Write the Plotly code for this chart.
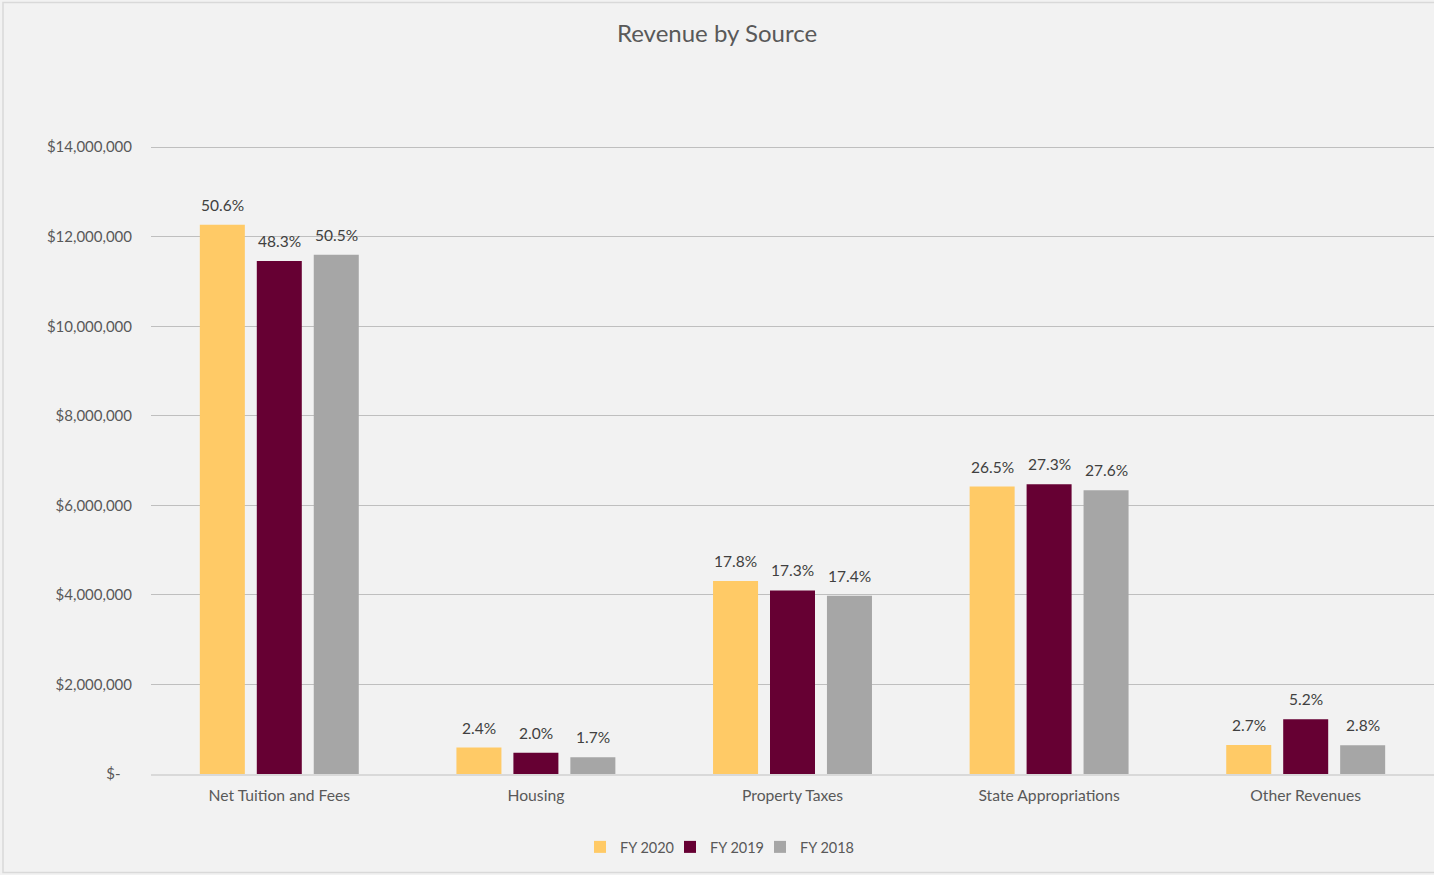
import plotly.graph_objects as go

categories = ["Net Tuition and Fees", "Housing", "Property Taxes", "State Appropriations", "Other Revenues"]
series_names = ["FY 2020", "FY 2019", "FY 2018"]
fy2020 = [12270000, 590000, 4310000, 6420000, 650000]
fy2019 = [11460000, 476000, 4100000, 6470000, 1225000]
fy2018 = [11600000, 375000, 3980000, 6340000, 640000]
pct2020 = ["50.6%", "2.4%", "17.8%", "26.5%", "2.7%"]
pct2019 = ["48.3%", "2.0%", "17.3%", "27.3%", "5.2%"]
pct2018 = ["50.5%", "1.7%", "17.4%", "27.6%", "2.8%"]
colors = ["#FFCA66", "#660033", "#A6A6A6"]
tick_vals = [0, 2000000, 4000000, 6000000, 8000000, 10000000, 12000000, 14000000]
tick_text = ["$-\u00a0\u00a0\u00a0", "$2,000,000", "$4,000,000", "$6,000,000", "$8,000,000",
             "$10,000,000", "$12,000,000", "$14,000,000"]

FONT = "Lato, 'Open Sans', sans-serif"
BARGAP = 0.334
GROUPGAP = 0.21
PLOT_L, PLOT_W = 151, 1283

all_vals = [fy2020, fy2019, fy2018]
all_pct = [pct2020, pct2019, pct2018]
legend_ids = ["legend", "legend2", "legend3"]
legend_text_px = [620, 710, 800]  # where each legend label starts

fig = go.Figure()
for name, vals, col, lid in zip(series_names, all_vals, colors, legend_ids):
    fig.add_trace(go.Bar(
        x=categories, y=vals, name=name, marker_color=col,
        marker_line_width=0, cliponaxis=False, legend=lid,
    ))

# percentage labels above each bar
slot = (1 - BARGAP) / len(series_names)
annotations = []
for j, (vals, pct) in enumerate(zip(all_vals, all_pct)):
    off = (j - (len(series_names) - 1) / 2) * slot
    for i, (v, t) in enumerate(zip(vals, pct)):
        annotations.append(dict(
            x=i + off, y=v, xref="x", yref="y", text=t, showarrow=False,
            xanchor="center", yanchor="bottom", yshift=9,
            font=dict(family=FONT, size=15.5, color="#404040"),
        ))

legend_common = dict(orientation="h", xanchor="left", y=-0.116, yanchor="middle",
                     font=dict(family=FONT, size=14.5, color="#595959"),
                     bgcolor="rgba(0,0,0,0)")
legends = {}
for lid, tx in zip(legend_ids, legend_text_px):
    legends[lid] = dict(legend_common, x=(tx - 40 - PLOT_L) / PLOT_W)

fig.update_layout(
    width=1434, height=875,
    paper_bgcolor="#F2F2F2", plot_bgcolor="#F2F2F2",
    margin=dict(l=PLOT_L, r=0, t=145, b=101),
    barmode="group", bargap=BARGAP, bargroupgap=GROUPGAP,
    title=dict(text="Revenue by Source", x=0.5, xref="container", xanchor="center",
               y=1 - 34 / 875, yref="container", yanchor="middle",
               font=dict(family=FONT, size=24, color="#595959")),
    font=dict(family=FONT, size=15, color="#595959"),
    showlegend=True,
    xaxis=dict(showgrid=False, showline=True, linecolor="#D9D9D9", linewidth=2,
               ticks="", tickfont=dict(family=FONT, size=15.7, color="#595959"),
               ticklabelstandoff=6),
    yaxis=dict(range=[0, 14050000], tickvals=tick_vals, ticktext=tick_text,
               showgrid=True, gridcolor="#BFBFBF", gridwidth=1,
               zeroline=False, showline=False, ticks="",
               tickfont=dict(family=FONT, size=15, color="#595959"),
               ticklabelstandoff=18),
    annotations=annotations,
    shapes=[dict(type="rect", xref="paper", yref="paper",
                 x0=(3 - 151) / 1283, x1=1.01, y0=(774 - 872.5) / 629, y1=(774 - 2.5) / 629,
                 line=dict(color="#D9D9D9", width=1.5), fillcolor="rgba(0,0,0,0)", layer="below")],
    **legends,
)

fig.write_html("out.html")
